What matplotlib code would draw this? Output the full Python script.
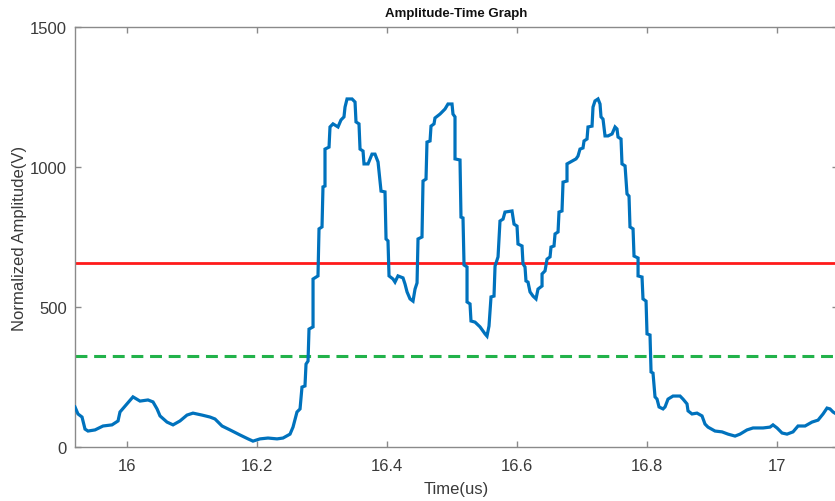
import numpy as np
import matplotlib
matplotlib.use('Agg')
import matplotlib.pyplot as plt
from matplotlib.ticker import FuncFormatter

# Sampled envelope (time in us, normalized amplitude in V)
time_us = [
    15.9200, 15.9246, 15.9308, 15.9354, 15.9400, 15.9508, 15.9631, 15.9769, 15.9862, 15.9892,
    15.9969, 16.0092, 16.0200, 16.0323, 16.0400, 16.0462, 16.0508, 16.0615, 16.0708, 16.0815,
    16.0923, 16.1015, 16.1154, 16.1277, 16.1354, 16.1462, 16.1585, 16.1738, 16.1862, 16.1938,
    16.2046, 16.2169, 16.2308, 16.2400, 16.2508, 16.2554, 16.2615, 16.2662, 16.2692, 16.2738,
    16.2754, 16.2785, 16.2800, 16.2862, 16.2862, 16.2938, 16.2954, 16.3000, 16.3015, 16.3046,
    16.3046, 16.3108, 16.3123, 16.3169, 16.3246, 16.3292, 16.3338, 16.3354, 16.3385, 16.3462,
    16.3508, 16.3523, 16.3569, 16.3585, 16.3631, 16.3646, 16.3708, 16.3769, 16.3815, 16.3862,
    16.3908, 16.3969, 16.3985, 16.4015, 16.4031, 16.4092, 16.4123, 16.4169, 16.4246, 16.4277,
    16.4308, 16.4354, 16.4400, 16.4431, 16.4462, 16.4477, 16.4538, 16.4554, 16.4600, 16.4615,
    16.4662, 16.4677, 16.4723, 16.4738, 16.4815, 16.4892, 16.4938, 16.5000, 16.5015, 16.5046,
    16.5046, 16.5123, 16.5138, 16.5169, 16.5185, 16.5231, 16.5231, 16.5277, 16.5292, 16.5354,
    16.5431, 16.5508, 16.5538, 16.5569, 16.5600, 16.5646, 16.5662, 16.5708, 16.5738, 16.5785,
    16.5815, 16.5923, 16.5954, 16.6000, 16.6015, 16.6077, 16.6092, 16.6123, 16.6138, 16.6169,
    16.6200, 16.6246, 16.6292, 16.6323, 16.6385, 16.6385, 16.6431, 16.6462, 16.6508, 16.6523,
    16.6569, 16.6585, 16.6631, 16.6646, 16.6692, 16.6708, 16.6769, 16.6769, 16.6846, 16.6908,
    16.6938, 16.6969, 16.7015, 16.7031, 16.7077, 16.7092, 16.7154, 16.7169, 16.7200, 16.7246,
    16.7277, 16.7292, 16.7323, 16.7354, 16.7400, 16.7462, 16.7508, 16.7538, 16.7554, 16.7600,
    16.7615, 16.7662, 16.7692, 16.7723, 16.7738, 16.7785, 16.7800, 16.7862, 16.7862, 16.7923,
    16.7938, 16.7985, 16.8000, 16.8046, 16.8062, 16.8092, 16.8123, 16.8154, 16.8185, 16.8246,
    16.8277, 16.8323, 16.8400, 16.8508, 16.8554, 16.8615, 16.8631, 16.8692, 16.8769, 16.8846,
    16.8892, 16.8938, 16.9046, 16.9154, 16.9246, 16.9354, 16.9431, 16.9538, 16.9631, 16.9785,
    16.9892, 16.9938, 17.0000, 17.0077, 17.0154, 17.0246, 17.0323, 17.0431, 17.0538, 17.0631,
    17.0708, 17.0769, 17.0815, 17.0862, 17.0938,
]
amplitude = [
    143, 118, 107, 64, 57, 61, 75, 79, 93, 125,
    146, 179, 164, 168, 161, 136, 111, 89, 79, 93,
    114, 121, 114, 107, 100, 75, 61, 43, 29, 21,
    29, 32, 29, 32, 46, 71, 125, 136, 214, 218,
    296, 307, 421, 429, 600, 611, 779, 786, 929, 932,
    1064, 1071, 1143, 1154, 1143, 1168, 1179, 1214, 1243, 1243,
    1232, 1161, 1154, 1064, 1057, 1011, 1011, 1046, 1046, 1018,
    914, 911, 743, 736, 611, 600, 589, 611, 604, 582,
    554, 529, 521, 564, 586, 743, 750, 950, 957, 1089,
    1093, 1146, 1154, 1175, 1189, 1207, 1225, 1225, 1189, 1179,
    1029, 1025, 821, 818, 650, 643, 518, 511, 450, 446,
    429, 404, 396, 432, 536, 539, 646, 679, 807, 814,
    839, 843, 796, 789, 725, 718, 654, 643, 593, 589,
    554, 539, 529, 564, 575, 618, 629, 671, 679, 714,
    718, 761, 768, 839, 843, 946, 950, 1011, 1021, 1029,
    1039, 1064, 1068, 1093, 1100, 1143, 1146, 1214, 1236, 1243,
    1225, 1179, 1171, 1111, 1111, 1118, 1143, 1136, 1107, 1100,
    1011, 1004, 904, 896, 786, 779, 682, 675, 611, 607,
    529, 521, 404, 400, 268, 264, 179, 171, 143, 136,
    143, 171, 182, 182, 171, 154, 129, 118, 121, 111,
    82, 71, 57, 54, 46, 39, 46, 61, 68, 68,
    71, 79, 68, 50, 46, 54, 75, 75, 89, 96,
    118, 139, 136, 125, 114,
]

upper_threshold = 657
lower_threshold = 325

xticks = [16, 16.2, 16.4, 16.6, 16.8, 17]
yticks = [0, 500, 1000, 1500]

plt.rcParams['font.family'] = ['Liberation Sans', 'DejaVu Sans']

W, H = 835, 502
fig = plt.figure(figsize=(W / 100, H / 100), dpi=100)
ax = fig.add_axes([75 / W, (H - 448) / H, (838 - 75) / W, 420 / H])

ax.plot(time_us, amplitude, color='#0072BD', lw=2.3, solid_joinstyle='miter', zorder=3)
ax.axhline(upper_threshold, color='#FF1A1A', lw=2.0, zorder=2)
ax.axhline(lower_threshold, color='#22B24A', lw=2.2, dashes=(3.9, 2.2), zorder=2)

ax.set_xlim(15.92, 17.0938)
ax.set_ylim(0, 1500)
ax.set_xticks(xticks)
ax.set_yticks(yticks)
ax.xaxis.set_major_formatter(FuncFormatter(lambda v, p: f'{v:g}'))

gray = '#8a8a8a'
for s in ax.spines.values():
    s.set_color(gray)
    s.set_linewidth(1.0)
ax.tick_params(direction='in', length=4, width=1.0, color=gray,
               top=True, right=True, labelsize=12, labelcolor='#3a3a3a')
ax.tick_params(axis='x', pad=8)
ax.tick_params(axis='y', pad=6)

ax.set_title('Amplitude-Time Graph', fontsize=9.5, fontweight='bold', color='#111111', pad=8)
ax.set_xlabel('Time(us)', fontsize=12, color='#3a3a3a', labelpad=6)
ax.set_ylabel('Normalized Amplitude(V)', fontsize=12, color='#3a3a3a', labelpad=2)

fig.savefig('out.png', dpi=100)
